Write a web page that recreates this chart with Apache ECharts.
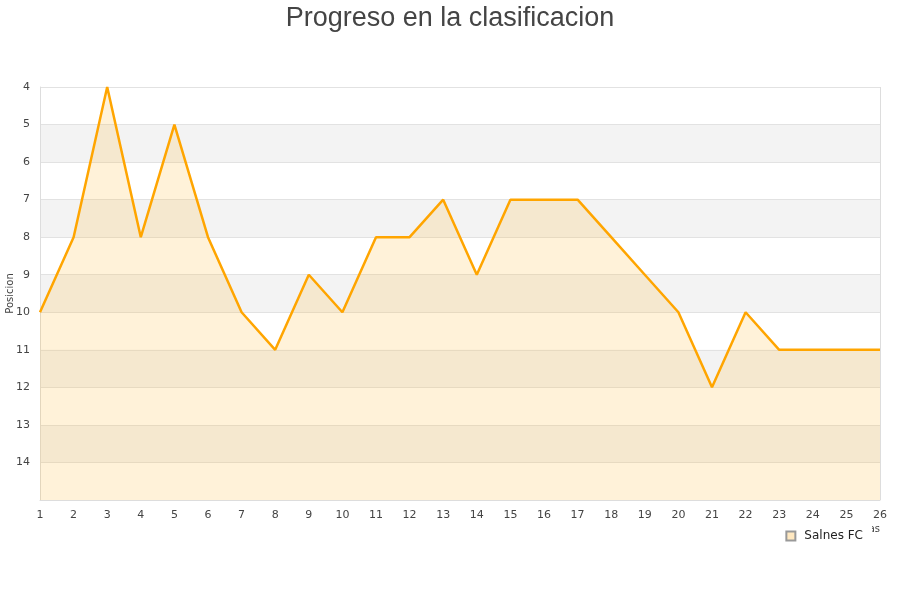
<!DOCTYPE html>
<html><head><meta charset="utf-8">
<script src="https://cdn.jsdelivr.net/npm/echarts@6/dist/echarts.min.js"></script>
<style>html,body{margin:0;padding:0;background:#fff}#c{width:900px;height:600px}</style>
</head><body><div id="c"></div>
<script>
const jornadas = ['1','2','3','4','5','6','7','8','9','10','11','12','13','14','15','16','17','18','19','20','21','22','23','24','25','26'];
const posiciones = [10,8,4,8,5,8,10,11,9,10,8,8,7,9,7,7,7,8,9,10,12,10,11,11,11,11];
const teamName = 'Salnes FC';
const chart = echarts.init(document.getElementById('c'));
chart.setOption({
  animation: false,
  title: {text: 'Progreso en la clasificacion', left: 'center', top: 0,
    textStyle: {fontFamily: 'Liberation Sans, Arial, sans-serif', fontSize: 27, fontWeight: 'normal', color: '#444'}},
  grid: {left: 40, right: 20, top: 87, bottom: 100, containLabel: false, outerBoundsMode: 'none'},
  legend: {data: [teamName], right: 28, top: 522, icon: 'rect', itemWidth: 9, itemHeight: 9, itemGap: 6,
    backgroundColor: '#fff', padding: [8, 9, 4, 6],
    textStyle: {fontFamily: 'DejaVu Sans, sans-serif', fontSize: 12, color: '#222', padding: [0, 0, 0, 4]}},
  xAxis: {type: 'category', data: jornadas, boundaryGap: false,
    name: 'Jornadas', nameLocation: 'end', nameGap: 0,
    nameTextStyle: {fontFamily: 'DejaVu Sans, sans-serif', fontSize: 10, color: '#444', align: 'right', verticalAlign: 'top', padding: [24, 0, 0, 0]},
    axisLine: {show: true, lineStyle: {color: '#ddd'}}, axisTick: {show: false},
    axisLabel: {fontFamily: 'DejaVu Sans, sans-serif', fontSize: 11, color: '#444', margin: 10},
    splitLine: {show: false}},
  yAxis: {type: 'value', inverse: true, min: 4, max: 15, interval: 1,
    name: 'Posicion', nameLocation: 'middle', nameGap: 25, nameMoveOverlap: false,
    nameTextStyle: {fontFamily: 'DejaVu Sans, sans-serif', fontSize: 10, color: '#444'},
    axisLine: {show: true, lineStyle: {color: '#ddd'}}, axisTick: {show: false},
    axisLabel: {fontFamily: 'DejaVu Sans, sans-serif', fontSize: 11, color: '#444', margin: 10,
      formatter: v => v === 15 ? '' : String(v)},
    splitLine: {show: true, lineStyle: {color: '#e2e2e2'}},
    splitArea: {show: true, areaStyle: {color: ['#ffffff', '#f3f3f3']}}},
  series: [{name: teamName, type: 'line', data: posiciones, symbol: 'none',
    lineStyle: {color: '#FFA500', width: 2.5},
    itemStyle: {color: '#FFE8C0', borderColor: '#999', borderWidth: 1},
    areaStyle: {origin: 'end', color: 'rgba(255,187,51,0.27)'}}],
  graphic: [{type: 'line', shape: {x1: 880.5, y1: 87, x2: 880.5, y2: 500}, style: {stroke: '#ddd', lineWidth: 1}},
            {type: 'line', shape: {x1: 40, y1: 87.5, x2: 880, y2: 87.5}, style: {stroke: '#ddd', lineWidth: 1}}]
});
</script></body></html>
